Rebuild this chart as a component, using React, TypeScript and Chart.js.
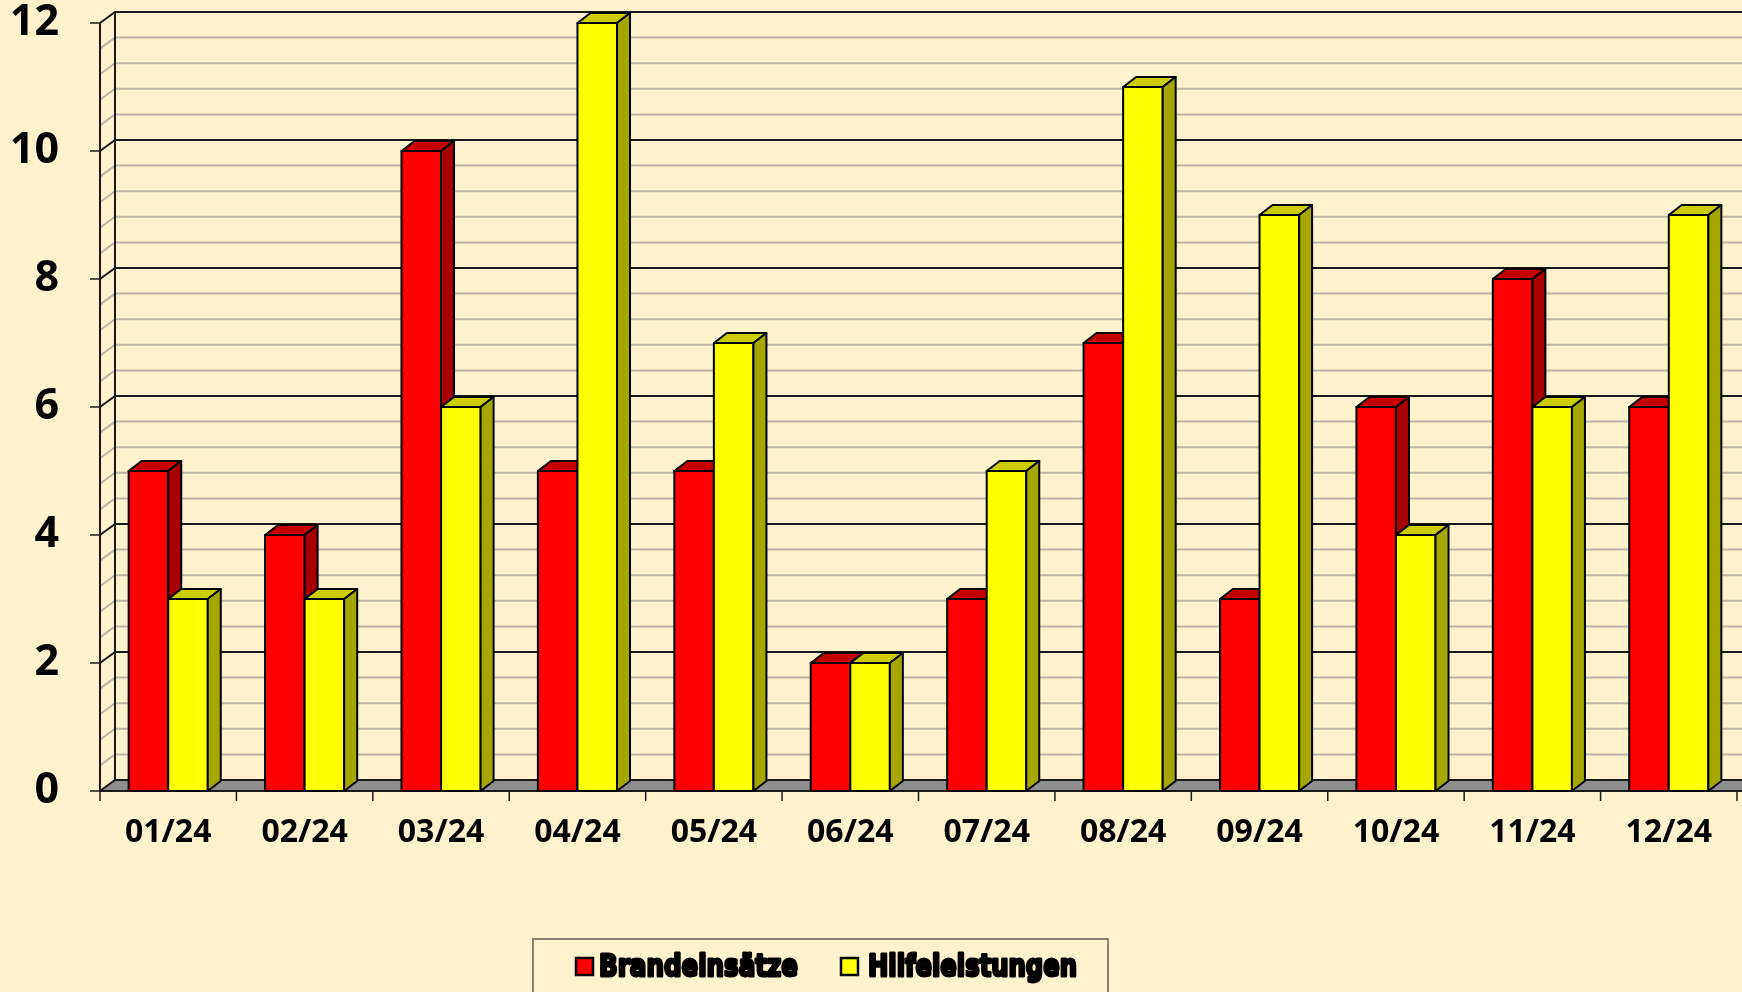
import React, { useEffect, useRef } from "react";
import { Chart, registerables } from "chart.js";

Chart.register(...registerables);

const categories = ["01/24", "02/24", "03/24", "04/24", "05/24", "06/24", "07/24", "08/24", "09/24", "10/24", "11/24", "12/24"];
const brandeinsaetze = [5, 4, 10, 5, 5, 2, 3, 7, 3, 6, 8, 6];
const hilfeleistungen = [3, 3, 6, 12, 7, 2, 5, 11, 9, 4, 6, 9];
const seriesNames = ["Brandeinsätze", "Hilfeleistungen"];
const yMin = 0;
const yMax = 12;
const yMajorStep = 2;
const yMinorStep = 0.4;

const W = 1742;
const H = 992;
const BG = "#FFF2CC";

// palette per series: front, top, side
const palettes = [
  { front: "#FF0000", top: "#C40000", side: "#A80000" },
  { front: "#FFFF00", top: "#CCCC00", side: "#A6A600" },
];

// 3D depth offsets (walls / bars)
const WDX = 15, WDY = -11;
const BDX = 13, BDY = -10;

const threeD = {
  id: "threeD",
  beforeDraw(chart: any) {
    const { ctx } = chart;
    ctx.save();
    ctx.fillStyle = BG;
    ctx.fillRect(0, 0, chart.width, chart.height);
    ctx.restore();
  },
  beforeDatasetsDraw(chart: any) {
    const { ctx, chartArea, scales } = chart;
    const ys = scales.y;
    const xs = scales.x;
    const L = chartArea.left, T = chartArea.top, B = chartArea.bottom;
    const far = chart.width + 40;
    ctx.save();
    ctx.lineCap = "butt";

    // floor
    ctx.beginPath();
    ctx.moveTo(L, B);
    ctx.lineTo(L + WDX, B + WDY);
    ctx.lineTo(far, B + WDY);
    ctx.lineTo(far, B);
    ctx.closePath();
    ctx.fillStyle = "#8E8E8E";
    ctx.fill();

    // gridlines: minor then major
    const n = Math.round((yMax - yMin) / yMinorStep);
    const drawLevel = (v: number, color: string, w: number) => {
      const py = ys.getPixelForValue(v);
      ctx.beginPath();
      ctx.moveTo(L, py);
      ctx.lineTo(L + WDX, py + WDY);
      ctx.lineTo(far, py + WDY);
      ctx.strokeStyle = color;
      ctx.lineWidth = w;
      ctx.stroke();
    };
    for (let i = 1; i <= n; i++) {
      const v = yMin + i * yMinorStep;
      const isMajor = Math.abs(v / yMajorStep - Math.round(v / yMajorStep)) < 1e-6;
      if (!isMajor) drawLevel(v, "#BDB6A6", 2);
    }
    for (let v = yMin; v <= yMax + 1e-6; v += yMajorStep) {
      drawLevel(v, "#1A1A1A", 2);
    }

    // left wall verticals
    ctx.strokeStyle = "#1A1A1A";
    ctx.lineWidth = 2;
    ctx.beginPath();
    ctx.moveTo(L + WDX, T + WDY);
    ctx.lineTo(L + WDX, B + WDY);
    ctx.stroke();
    ctx.beginPath();
    ctx.moveTo(L, T);
    ctx.lineTo(L, B);
    ctx.stroke();

    // floor front edge (x axis)
    ctx.beginPath();
    ctx.moveTo(L, B);
    ctx.lineTo(far, B);
    ctx.stroke();

    // y tick marks
    ctx.lineWidth = 1.5;
    for (let v = yMin; v <= yMax + 1e-6; v += yMajorStep) {
      const py = ys.getPixelForValue(v);
      ctx.beginPath();
      ctx.moveTo(L - 10, py);
      ctx.lineTo(L, py);
      ctx.stroke();
    }
    // x tick marks at category boundaries
    const half = (xs.getPixelForValue(1) - xs.getPixelForValue(0)) / 2;
    for (let i = 0; i <= categories.length; i++) {
      const px = xs.getPixelForValue(i) - half;
      ctx.beginPath();
      ctx.moveTo(px, B);
      ctx.lineTo(px, B + 10);
      ctx.stroke();
    }
    ctx.restore();
  },
  beforeDatasetDraw() {
    return false;
  },
  afterDatasetsDraw(chart: any) {
    const { ctx } = chart;
    ctx.save();
    ctx.lineWidth = 2;
    ctx.strokeStyle = "#000";
    ctx.lineJoin = "round";
    const nCat = categories.length;
    for (let i = 0; i < nCat; i++) {
      chart.data.datasets.forEach((ds: any, d: number) => {
        const el = chart.getDatasetMeta(d).data[i];
        if (!el) return;
        const p = palettes[d];
        const x0 = el.x - el.width / 2;
        const x1 = el.x + el.width / 2;
        const top = el.y;
        const base = el.base;
        // front
        ctx.beginPath();
        ctx.rect(x0, top, x1 - x0, base - top);
        ctx.fillStyle = p.front;
        ctx.fill();
        ctx.stroke();
        // top
        ctx.beginPath();
        ctx.moveTo(x0, top);
        ctx.lineTo(x0 + BDX, top + BDY);
        ctx.lineTo(x1 + BDX, top + BDY);
        ctx.lineTo(x1, top);
        ctx.closePath();
        ctx.fillStyle = p.top;
        ctx.fill();
        ctx.stroke();
        // side
        ctx.beginPath();
        ctx.moveTo(x1, top);
        ctx.lineTo(x1 + BDX, top + BDY);
        ctx.lineTo(x1 + BDX, base + BDY);
        ctx.lineTo(x1, base);
        ctx.closePath();
        ctx.fillStyle = p.side;
        ctx.fill();
        ctx.stroke();
      });
    }
    ctx.restore();
  },
  afterDraw(chart: any) {
    const { ctx } = chart;
    ctx.save();
    // legend box
    const bx = 533, by = 939, bw = 575, bh = 80;
    ctx.strokeStyle = "#8A806E";
    ctx.lineWidth = 2;
    ctx.strokeRect(bx, by, bw, bh);
    const items = [
      { sx: 576, tx: 599, tw: 199 },
      { sx: 841, tx: 868, tw: 209 },
    ];
    ctx.font = "bold 31px 'DejaVu Sans'";
    ctx.textBaseline = "alphabetic";
    chart.data.datasets.forEach((ds: any, d: number) => {
      const it = items[d];
      ctx.fillStyle = palettes[d].front;
      ctx.fillRect(it.sx, 958, 17, 17);
      ctx.lineWidth = 2.5;
      ctx.strokeStyle = "#000";
      ctx.strokeRect(it.sx, 958, 17, 17);
      const m = ctx.measureText(ds.label).width;
      ctx.save();
      ctx.translate(it.tx, 976);
      ctx.scale(it.tw / m, 1);
      ctx.fillStyle = "#000";
      ctx.lineWidth = 3;
      ctx.lineJoin = "round";
      ctx.strokeStyle = "#000";
      ctx.strokeText(ds.label, 0, 0);
      ctx.fillText(ds.label, 0, 0);
      ctx.restore();
    });
    ctx.restore();
  },
};

export default function App() {
  const ref = useRef<HTMLCanvasElement | null>(null);
  useEffect(() => {
    document.body.style.margin = "0";
    document.body.style.background = BG;
    document.body.style.overflow = "hidden";
    const canvas = ref.current!;
    const chart = new Chart(canvas, {
      type: "bar",
      data: {
        labels: categories,
        datasets: [
          { label: seriesNames[0], data: brandeinsaetze, backgroundColor: palettes[0].front },
          { label: seriesNames[1], data: hilfeleistungen, backgroundColor: palettes[1].front },
        ],
      },
      options: {
        responsive: false,
        animation: false,
        events: [],
        layout: { padding: { top: 23, right: 5, left: 0, bottom: 0 } },
        datasets: { bar: { categoryPercentage: 0.58, barPercentage: 1.0 } },
        plugins: { legend: { display: false }, tooltip: { enabled: false }, title: { display: false } },
        scales: {
          x: {
            grid: { display: false, drawTicks: false },
            border: { display: false },
            ticks: {
              color: "#000",
              padding: 26,
              maxRotation: 0,
              font: { family: "'Noto Sans'", size: 32, weight: "bold", lineHeight: 1 },
            },
            afterFit: (s: any) => { s.height = H - 791; s.paddingLeft = 0; s.paddingRight = 0; },
          },
          y: {
            min: yMin,
            max: yMax,
            grid: { display: false, drawTicks: false },
            border: { display: false },
            ticks: {
              stepSize: yMajorStep,
              color: "#000",
              padding: 41,
              font: { family: "'Noto Sans'", size: 43, weight: "bold", lineHeight: 1 },
            },
            afterFit: (s: any) => { s.width = 100; s.paddingTop = 0; s.paddingBottom = 0; },
          },
        },
      },
      plugins: [threeD],
    });
    return () => chart.destroy();
  }, []);
  return (
    <div style={{ width: W, height: H, background: BG }}>
      <canvas ref={ref} width={W} height={H} style={{ display: "block" }} />
    </div>
  );
}
